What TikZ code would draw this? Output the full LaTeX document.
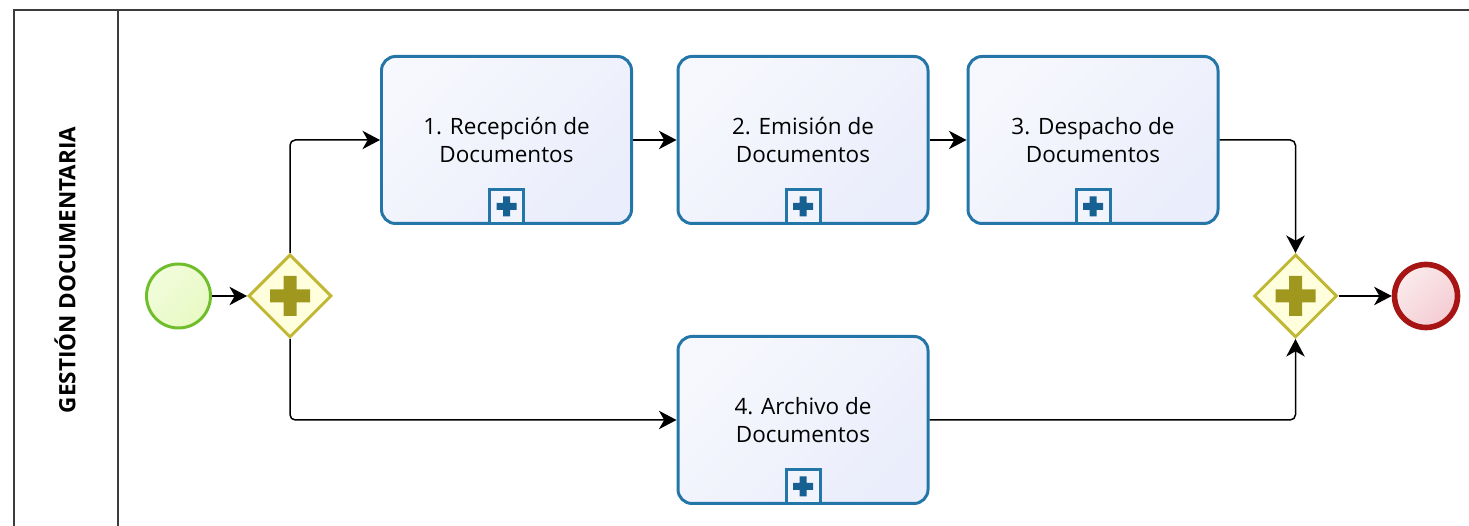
\documentclass[tikz,border=0pt]{standalone}
\usepackage{fontspec}
\setmainfont{Open Sans}
\usetikzlibrary{shapes.geometric,arrows.meta}

\definecolor{taskline}{RGB}{36,118,168}
\definecolor{taskfill}{RGB}{234,237,251}
\definecolor{markplus}{RGB}{22,96,146}
\definecolor{gateline}{RGB}{192,184,52}
\definecolor{gatefill}{RGB}{255,255,222}
\definecolor{gateplus}{RGB}{160,152,30}
\definecolor{startline}{RGB}{112,190,44}
\definecolor{startfill}{RGB}{232,250,196}
\definecolor{endline}{RGB}{166,20,20}
\definecolor{endfill}{RGB}{244,204,210}
\definecolor{laneline}{RGB}{60,60,60}

% plus sign drawn inside a node (colour, half span, half thickness)
\newcommand{\plussign}[3]{%
  \fill[#1,shift={(path picture bounding box.center)}]
    (-#2,-#3) rectangle (#2,#3) (-#3,-#2) rectangle (#3,#2);}

\begin{document}
\begin{tikzpicture}[>={Stealth[length=10pt,width=10.5pt,inset=3pt]},
    flow/.style={->, line width=0.85pt, rounded corners=3pt},
    task/.style={rectangle, rounded corners=0.28cm, draw=taskline, line width=1.7pt,
        left color=white!60!taskfill, right color=taskfill, shading angle=45,
        minimum width=5cm, minimum height=3.34cm, align=center,
        font=\fontsize{12.8}{16}\selectfont},
    marker/.style={rectangle, draw=taskline, line width=1.7pt, fill=taskfill!60!white,
        minimum size=0.68cm, inner sep=0pt, anchor=south,
        path picture={\plussign{markplus}{0.2cm}{0.07cm}}},
    gate/.style={diamond, aspect=1, draw=gateline, line width=1.7pt, fill=gatefill,
        minimum width=1.66cm, minimum height=1.66cm, inner sep=0pt,
        path picture={\plussign{gateplus}{0.4cm}{0.13cm}}},
    startev/.style={circle, draw=startline, line width=1.7pt, inner sep=0pt,
        minimum size=1.28cm, left color=white!40!startfill, right color=startfill,
        shading angle=45},
    endev/.style={circle, draw=endline, line width=3.2pt, inner sep=0pt,
        minimum size=1.26cm, left color=white!60!endfill, right color=endfill,
        shading angle=45}]

    \useasboundingbox (0,0) rectangle (29.38,10.52);

    % lane
    \draw[laneline, line width=1.1pt] (0.28,-0.5) |- (29.9,10.32);
    \draw[laneline, line width=1.1pt] (2.36,-0.5) -- (2.36,10.32);
    \node[rotate=90, font=\bfseries\fontsize{12.8}{15}\selectfont] (lane) at (1.30,5.12)
        {GESTIÓN DOCUMENTARIA};

    % events and gateways
    \node[startev] (start) at (3.57,4.60) {};
    \node[gate] (fork) [right of=start, node distance=2.23cm] {};
    \node[gate] (join) at (25.91,4.60) {};
    \node[endev] (end) [right of=join, node distance=2.61cm] {};

    % subprocesses
    \node[task] (t1) at (10.13,7.72) {1. Recepción de\\Documentos};
    \node[task] (t2) [right of=t1, node distance=5.93cm] {2. Emisión de\\Documentos};
    \node[task] (t3) [right of=t2, node distance=5.8cm] {3. Despacho de\\Documentos};
    \node[task] (t4) [below of=t2, node distance=5.6cm] {4. Archivo de\\Documentos};
    \foreach \t in {t1,t2,t3,t4}
        \node[marker] (\t-m) at (\t.south) {};

    \draw[flow] (start) -- (fork);
    \draw[flow] (fork.north) |- (t1);
    \draw[flow] (t1) -- (t2);
    \draw[flow] (t2) -- (t3);
    \draw[flow] (fork.south) |- (t4);
    \draw[flow] (t3) -| (join.north);
    \draw[flow] (t4) -| (join.south);
    \draw[flow] (join) -- (end);
\end{tikzpicture}
\end{document}
